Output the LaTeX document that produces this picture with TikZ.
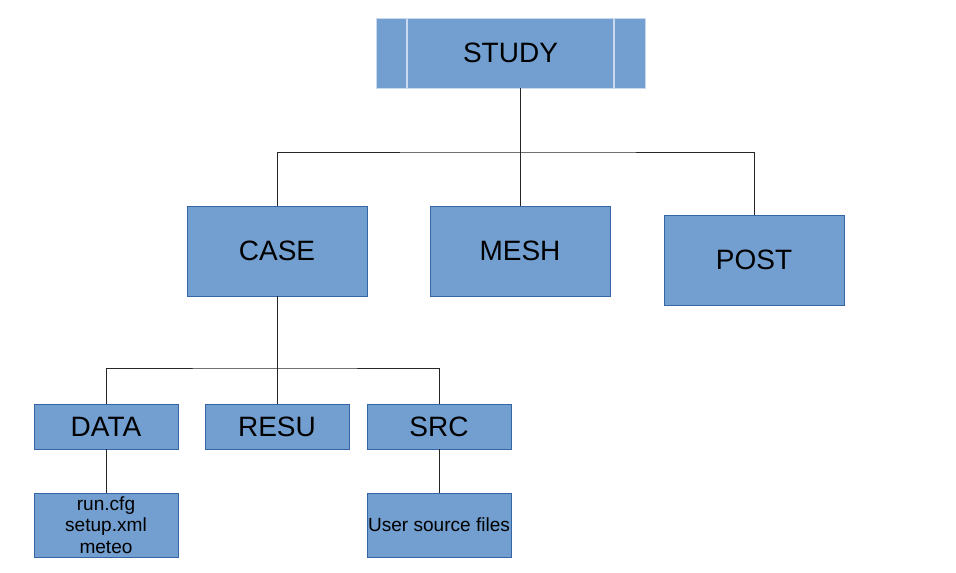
\documentclass[tikz,border=0pt]{standalone}
\usepackage{fontspec}
\setmainfont{Liberation Sans}
\usepackage{tikz}
\definecolor{boxfill}{HTML}{729FCF}
\definecolor{boxline}{HTML}{3465A4}
\definecolor{studyline}{HTML}{C9DAEE}
\tikzset{
  dirbox/.style={draw=boxline,fill=boxfill,line width=0.6pt,inner sep=0pt,
    font=\fontsize{21}{25}\selectfont},
  filebox/.style={dirbox,align=center,font=\fontsize{14.3}{16.1}\selectfont},
  boxsize/.style 2 args={minimum width=#1*0.75pt,minimum height=#2*0.75pt},
  link/.style={draw=black!85,line width=0.75pt}
}

\begin{document}
\begin{tikzpicture}[x=0.75pt,y=-0.75pt]
  % canvas in pixels: 956 x 572
  \useasboundingbox (0,0) rectangle (956,572);
  \def\BW{180}\def\BH{90}
  \def\SW{144}\def\SH{45}

  % top level
  \node[dirbox,draw=studyline,boxsize={269}{70}] (study) at (510.5,53){STUDY};
  \draw[studyline,line width=1pt] (407,18)--(407,88) (614,18)--(614,88);

  % second level
  \node[dirbox,boxsize={\BW}{\BH}] (case) at (277,251){CASE};
  \node[dirbox,boxsize={\BW}{\BH}] (mesh) at (520,251){MESH};
  \node[dirbox,boxsize={\BW}{\BH}] (post) at (754,260){POST};

  % third level
  \node[dirbox,boxsize={\SW}{\SH}] (data) at (106,426.5){DATA};
  \node[dirbox,boxsize={\SW}{\SH}] (resu) at (277,426.5){RESU};
  \node[dirbox,boxsize={\SW}{\SH}] (src) at (439,426.5){SRC};

  % files
  \node[filebox,boxsize={\SW}{64}] (datafiles) at (106,525){run.cfg\\setup.xml\\meteo};
  \node[filebox,boxsize={\SW}{64}] (srcfiles) at (439,525){User source files};

  % connectors
  \coordinate (hubA) at (520,152);
  \coordinate (hubB) at (277,368);
  \draw[link] (study.south -| hubA)--(hubA);
  \draw[link] (case.north) |- (hubA) -| (post.north);
  \draw[link] (hubA)--(mesh.north);
  \draw[link] (case.south)--(hubB);
  \draw[link] (data.north) |- (hubB) -| (src.north);
  \draw[link] (hubB)--(resu.north);
  \draw[link] (data.south)--(datafiles.north);
  \draw[link] (src.south)--(srcfiles.north);
\end{tikzpicture}
\end{document}
